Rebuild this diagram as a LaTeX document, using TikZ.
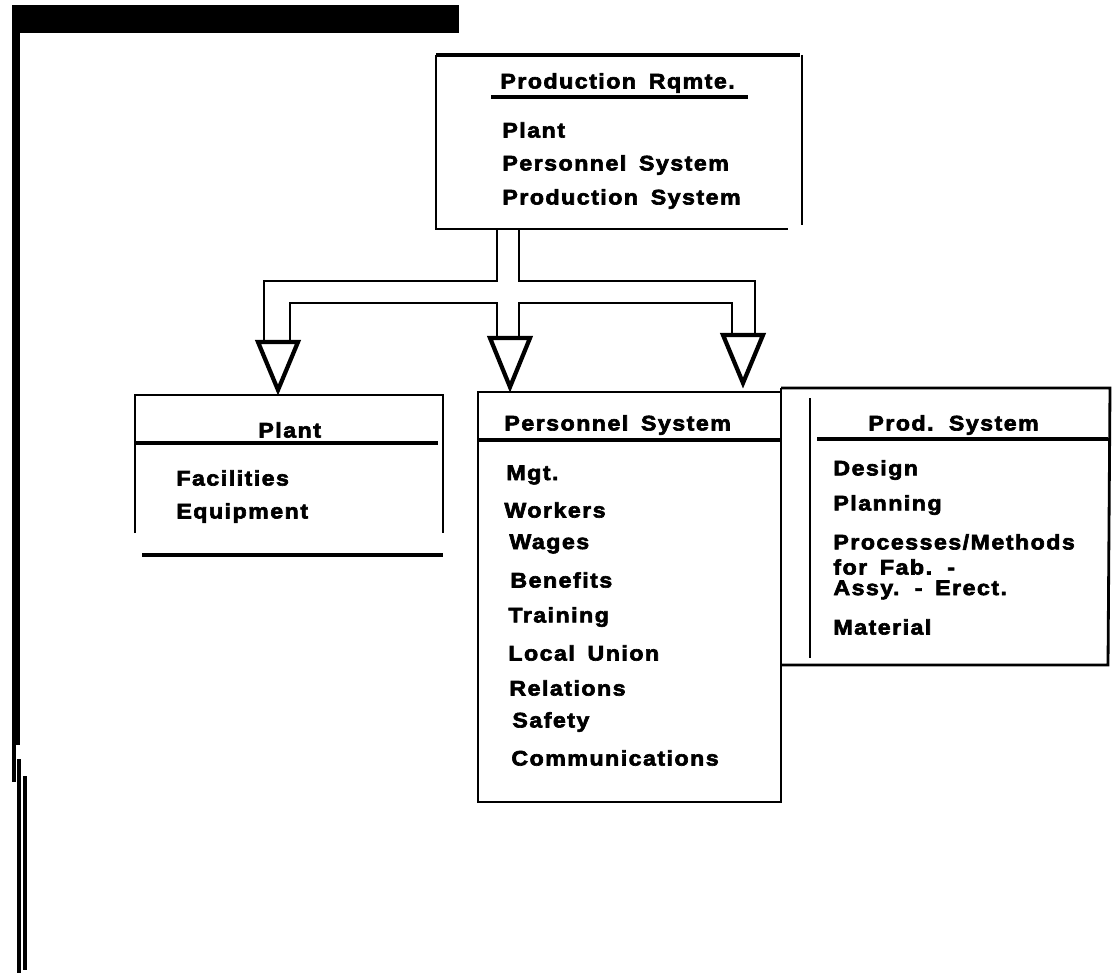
\documentclass[tikz,border=0pt]{standalone}
\usepackage{fontspec}
\newfontfamily\chartfont{Liberation Sans}[LetterSpace=7,FakeStretch=1.1,FakeBold=3,WordSpace=1.6]
\begin{document}
\begin{tikzpicture}[x=0.02cm,y=-0.02cm,line width=1.6pt,
		item/.style={anchor=west,inner sep=0pt,font=\chartfont\bfseries\fontsize{12}{14}\selectfont},
		rule/.style={line width=2.2pt},
		pointer/.style={line width=2.4pt,line join=miter}]
				\useasboundingbox (0,0) rectangle (1112,973);

				% frame bars at the page edge
				\fill (12,5) rectangle (459,33);
				\fill (12,24) rectangle (20,745);
				\fill (12,745) rectangle (16,782);
				\fill (17,759) rectangle (21,973);
				\fill (23,776) rectangle (27,970);

				% top box
				\draw[rule] (436,55) -- (800,55);
				\draw (436,55) -- (436,229) -- (788,229);
				\draw (802,55) -- (802,225);
				\draw[rule] (491,97) -- (748,97);
				\node[item] (rqmt) at (499,83) {Production Rqmte.};
				\node[item] (rqPlant) at (501,130) {Plant};
				\node[item] (rqPers) at (501,165) {Personnel System};
				\node[item] (rqProd) at (501,199) {Production System};

				\coordinate (stemL) at (497,229);
				\coordinate (stemR) at (519,229);
				\coordinate (tipPlant) at (278,390);
				\coordinate (tipPers) at (510,387);
				\coordinate (tipProd) at (743,383);

				% hollow arrows
				\draw (stemL) -- (497,281) -- (264,281) -- (264,340);
				\draw (stemR) -- (519,281) -- (755,281) -- (755,335);
				\draw (290,340) -- (290,303) -- (497,303) -- (497,338);
				\draw (519,338) -- (519,303) -- (732,303) -- (732,335);
				\draw[pointer] (258,342) -- (298,342) -- (tipPlant) -- cycle;
				\draw[pointer] (490,338) -- (530,338) -- (tipPers) -- cycle;
				\draw[pointer] (723,335) -- (763,335) -- (tipProd) -- cycle;

				% plant box
				\draw (135,533) -- (135,395) -- (443,395) -- (443,533);
				\draw[rule] (135,443) -- (438,443);
				\draw[rule] (142,555) -- (443,555);
				\node[item] (plant) at (257,430) {Plant};
				\node[item] (fac) at (175,478) {Facilities};
				\node[item] (equip) at (175,513) {Equipment};

				% personnel box
				\draw (781,388) -- (781,802) -- (478,802) -- (478,392) -- (781,392);
				\draw[rule] (478,440) -- (781,440);
				\node[item] (pers) at (503,425) {Personnel System};
				\node[item] at (505,475) {Mgt.};
				\node[item] at (503,510) {Workers};
				\node[item] at (508,544) {Wages};
				\node[item] at (509,580) {Benefits};
				\node[item] at (507,617) {Training};
				\node[item] at (507,653) {Local Union};
				\node[item] at (508,688) {Relations};
				\node[item] at (511,722) {Safety};
				\node[item] at (510,758) {Communications};

				% production system box
				\draw (781,388) -- (1110,388) -- (1108,665) -- (781,665);
				\draw[line width=1pt] (810,398) -- (810,658);
				\draw[rule] (817,439) -- (1108,439);
				\node[item] (prod) at (867,425) {Prod. System};
				\node[item] at (832,470) {Design};
				\node[item] at (832,505) {Planning};
				\node[item] at (832,542) {Processes/Methods};
				\node[item] at (832,567) {for Fab. -};
				\node[item] at (832,590) {Assy. - Erect.};
				\node[item] at (832,627) {Material};
			\end{tikzpicture}
\end{document}
